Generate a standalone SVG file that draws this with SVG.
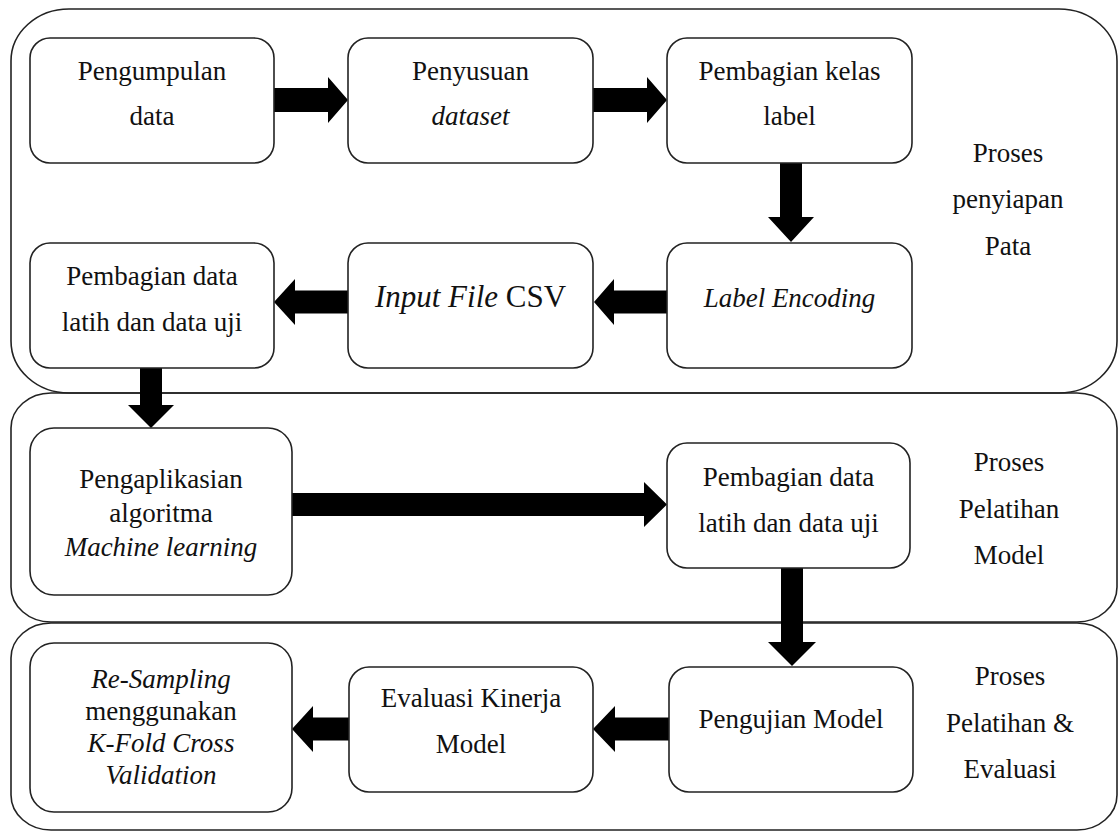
<svg xmlns="http://www.w3.org/2000/svg" width="1119" height="832" viewBox="0 0 1119 832">
<defs>
<polygon id="arrow-right" points="0,-12 54,-12 54,-23 74,0 54,23 54,12 0,12"/>
</defs>
<rect width="1119" height="832" fill="#fff"/>
<g id="containers" fill="none" stroke="#222" stroke-width="1.6">
<rect id="stage-persiapan" x="11" y="9" width="1106" height="384" rx="58" ry="52"/>
<rect id="stage-pelatihan" x="11" y="393" width="1106" height="229" rx="40" ry="35"/>
<rect id="stage-evaluasi" x="11" y="623" width="1106" height="207" rx="40" ry="35"/>
</g>
<g id="stage-labels" fill="#111">
<text font-family="Liberation Serif" font-size="27" text-anchor="middle" x="1008" y="162">Proses</text>
<text font-family="Liberation Serif" font-size="27" text-anchor="middle" x="1008" y="208">penyiapan</text>
<text font-family="Liberation Serif" font-size="27" text-anchor="middle" x="1008" y="255">Pata</text>
<text font-family="Liberation Serif" font-size="27" text-anchor="middle" x="1009" y="471">Proses</text>
<text font-family="Liberation Serif" font-size="27" text-anchor="middle" x="1009" y="518">Pelatihan</text>
<text font-family="Liberation Serif" font-size="27" text-anchor="middle" x="1009" y="564">Model</text>
<text font-family="Liberation Serif" font-size="27" text-anchor="middle" x="1010" y="685">Proses</text>
<text font-family="Liberation Serif" font-size="27" text-anchor="middle" x="1010" y="732">Pelatihan &amp;</text>
<text font-family="Liberation Serif" font-size="27" text-anchor="middle" x="1010" y="778">Evaluasi</text>
</g>
<g id="connectors" fill="#000">
<polygon points="274,88 328,88 328,77 348,100 328,123 328,112 274,112"/>
<polygon points="593,88 647,88 647,77 667,100 647,123 647,112 593,112"/>
<polygon points="780,163 802,163 802,217 814,217 791,242 768,217 780,217"/>
<polygon points="667,290.5 614,290.5 614,279 594,302 614,325 614,313.5 667,313.5"/>
<polygon points="348,290.5 295,290.5 295,279 274,302 295,325 295,313.5 348,313.5"/>
<polygon points="140,368 162,368 162,405 174,405 151,428 128,405 140,405"/>
<polygon points="292,493 644,493 644,482 667,504.5 644,527 644,516 292,516"/>
<polygon points="781,568 803,568 803,642 816,642 792,666 768,642 781,642"/>
<polygon points="669,717.5 615,717.5 615,706 593,729 615,752 615,740.5 669,740.5"/>
<polygon points="349,717.5 313,717.5 313,706 292,729 313,752 313,740.5 349,740.5"/>
</g>
<g id="node-pengumpulan">
<rect x="30" y="38" width="244" height="125" rx="20" fill="#fff" stroke="#222" stroke-width="1.6"/>
<text font-family="Liberation Serif" font-size="27" text-anchor="middle" fill="#111" x="152" y="80">Pengumpulan</text>
<text font-family="Liberation Serif" font-size="27" text-anchor="middle" fill="#111" x="152" y="125">data</text>
</g>
<g id="node-penyusuan">
<rect x="348" y="38" width="245" height="125" rx="20" fill="#fff" stroke="#222" stroke-width="1.6"/>
<text font-family="Liberation Serif" font-size="27" text-anchor="middle" fill="#111" x="470.5" y="80">Penyusuan</text>
<text font-family="Liberation Serif" font-size="27" text-anchor="middle" fill="#111" font-style="italic" x="470.5" y="125">dataset</text>
</g>
<g id="node-pembagian-kelas">
<rect x="667" y="38" width="245" height="125" rx="20" fill="#fff" stroke="#222" stroke-width="1.6"/>
<text font-family="Liberation Serif" font-size="27" text-anchor="middle" fill="#111" x="789.5" y="80">Pembagian kelas</text>
<text font-family="Liberation Serif" font-size="27" text-anchor="middle" fill="#111" x="789.5" y="125">label</text>
</g>
<g id="node-label-encoding">
<rect x="667" y="243" width="245" height="125" rx="20" fill="#fff" stroke="#222" stroke-width="1.6"/>
<text font-family="Liberation Serif" font-size="27" text-anchor="middle" fill="#111" font-style="italic" x="789.5" y="307">Label Encoding</text>
</g>
<g id="node-input-csv">
<rect x="348" y="243" width="245" height="125" rx="20" fill="#fff" stroke="#222" stroke-width="1.6"/>
<text font-family="Liberation Serif" font-size="31" text-anchor="middle" fill="#111" x="470.5" y="307"><tspan font-style="italic">Input File</tspan> CSV</text>
</g>
<g id="node-pembagian-data-1">
<rect x="30" y="243" width="244" height="125" rx="20" fill="#fff" stroke="#222" stroke-width="1.6"/>
<text font-family="Liberation Serif" font-size="27" text-anchor="middle" fill="#111" x="152" y="285">Pembagian data</text>
<text font-family="Liberation Serif" font-size="27" text-anchor="middle" fill="#111" x="152" y="331">latih dan data uji</text>
</g>
<g id="node-pengaplikasian">
<rect x="30" y="428" width="262" height="167" rx="24" fill="#fff" stroke="#222" stroke-width="1.6"/>
<text font-family="Liberation Serif" font-size="27" text-anchor="middle" fill="#111" x="161" y="488">Pengaplikasian</text>
<text font-family="Liberation Serif" font-size="27" text-anchor="middle" fill="#111" x="161" y="522">algoritma</text>
<text font-family="Liberation Serif" font-size="27" text-anchor="middle" fill="#111" font-style="italic" x="161" y="556">Machine learning</text>
</g>
<g id="node-pembagian-data-2">
<rect x="667" y="443" width="243" height="125" rx="20" fill="#fff" stroke="#222" stroke-width="1.6"/>
<text font-family="Liberation Serif" font-size="27" text-anchor="middle" fill="#111" x="788.5" y="486">Pembagian data</text>
<text font-family="Liberation Serif" font-size="27" text-anchor="middle" fill="#111" x="788.5" y="532">latih dan data uji</text>
</g>
<g id="node-pengujian">
<rect x="669" y="667" width="244" height="125" rx="20" fill="#fff" stroke="#222" stroke-width="1.6"/>
<text font-family="Liberation Serif" font-size="27" text-anchor="middle" fill="#111" x="791" y="728">Pengujian Model</text>
</g>
<g id="node-evaluasi-kinerja">
<rect x="349" y="667" width="244" height="125" rx="20" fill="#fff" stroke="#222" stroke-width="1.6"/>
<text font-family="Liberation Serif" font-size="27" text-anchor="middle" fill="#111" x="471" y="707">Evaluasi Kinerja</text>
<text font-family="Liberation Serif" font-size="27" text-anchor="middle" fill="#111" x="471" y="753">Model</text>
</g>
<g id="node-resampling">
<rect x="30" y="643" width="262" height="169" rx="24" fill="#fff" stroke="#222" stroke-width="1.6"/>
<text font-family="Liberation Serif" font-size="27" text-anchor="middle" fill="#111" font-style="italic" x="161" y="688">Re-Sampling</text>
<text font-family="Liberation Serif" font-size="27" text-anchor="middle" fill="#111" x="161" y="720">menggunakan</text>
<text font-family="Liberation Serif" font-size="27" text-anchor="middle" fill="#111" font-style="italic" x="161" y="752">K-Fold Cross</text>
<text font-family="Liberation Serif" font-size="27" text-anchor="middle" fill="#111" font-style="italic" x="161" y="784">Validation</text>
</g>
</svg>
